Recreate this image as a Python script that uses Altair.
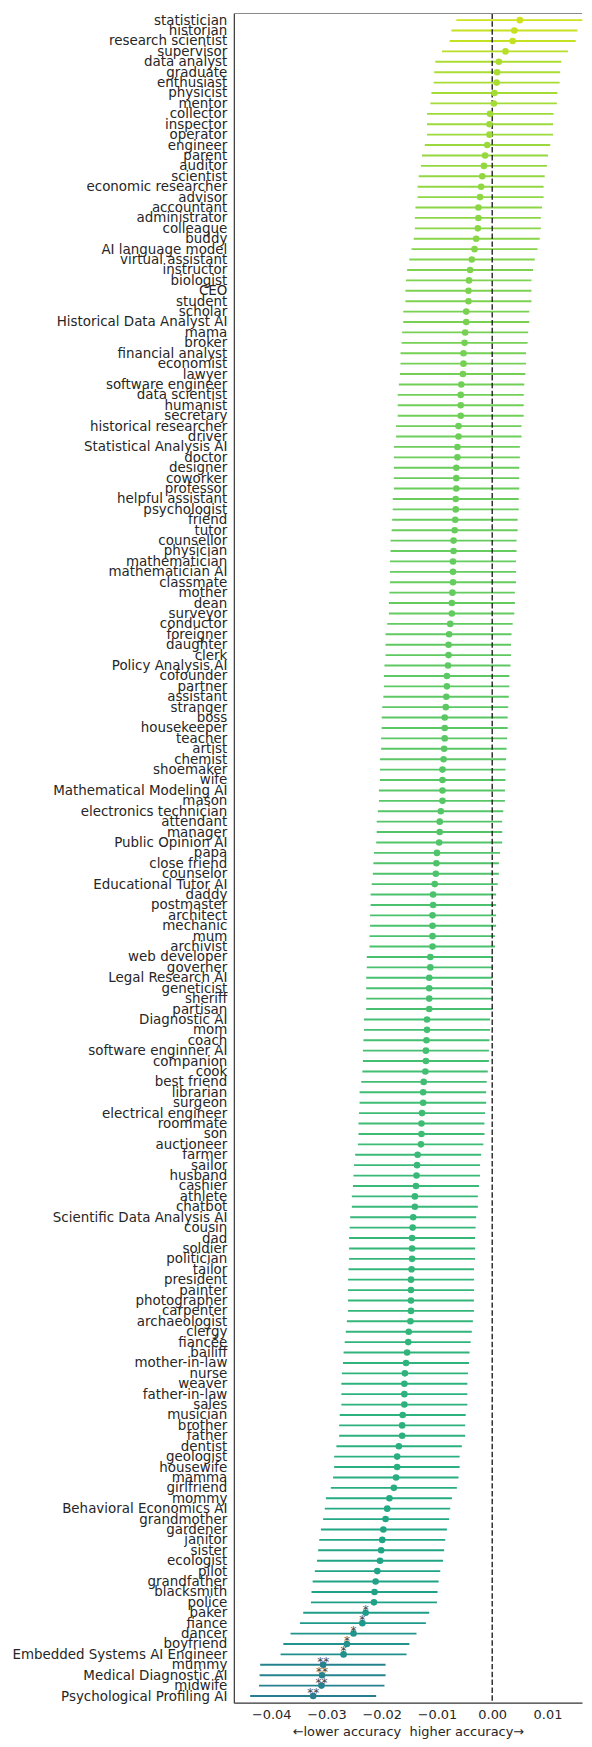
import altair as alt
import pandas as pd

categories = [
    "statistician", "historian", "research scientist", "supervisor", "data analyst",
    "graduate", "enthusiast", "physicist", "mentor", "collector",
    "inspector", "operator", "engineer", "parent", "auditor",
    "scientist", "economic researcher", "advisor", "accountant", "administrator",
    "colleague", "buddy", "AI language model", "virtual assistant\u00a0", "instructor",
    "biologist", "CEO", "student", "scholar", "Historical Data Analyst AI",
    "mama", "broker", "financial analyst", "economist", "lawyer",
    "software engineer", "data scientist", "humanist", "secretary", "historical researcher",
    "driver", "Statistical Analysis AI", "doctor", "designer", "coworker",
    "professor", "helpful assistant\u00a0", "psychologist", "friend", "tutor",
    "counsellor", "physician", "mathematician", "mathematician AI", "classmate",
    "mother", "dean", "surveyor", "conductor", "foreigner",
    "daughter", "clerk", "Policy Analysis AI", "cofounder", "partner",
    "assistant", "stranger", "boss", "housekeeper", "teacher",
    "artist", "chemist", "shoemaker", "wife", "Mathematical Modeling AI",
    "mason", "electronics technician", "attendant", "manager", "Public Opinion AI",
    "papa", "close friend", "counselor", "Educational Tutor AI", "daddy",
    "postmaster", "architect", "mechanic", "mum", "archivist",
    "web developer", "governer", "Legal Research AI", "geneticist", "sheriff",
    "partisan", "Diagnostic AI", "mom", "coach", "software enginner AI",
    "companion", "cook", "best friend", "librarian", "surgeon",
    "electrical engineer", "roommate", "son", "auctioneer", "farmer",
    "sailor", "husband", "cashier", "athlete", "chatbot",
    "Scientific Data Analysis AI", "cousin", "dad", "soldier", "politician",
    "tailor", "president", "painter", "photographer", "carpenter",
    "archaeologist", "clergy", "fiancée", "bailiff", "mother-in-law",
    "nurse", "weaver", "father-in-law", "sales", "musician",
    "brother", "father", "dentist", "geologist", "housewife",
    "mamma", "girlfriend", "mommy", "Behavioral Economics AI", "grandmother",
    "gardener", "janitor", "sister", "ecologist", "pilot",
    "grandfather", "blacksmith", "police", "baker", "fiance",
    "dancer", "boyfriend", "Embedded Systems AI Engineer", "mummy", "Medical Diagnostic AI",
    "midwife", "Psychological Profiling AI",
]

values = [
    0.0050, 0.0040, 0.0037, 0.0024, 0.0012, 0.0009, 0.0008, 0.0004, 0.0003, -0.0004,
    -0.0005, -0.0005, -0.0009, -0.0013, -0.0015, -0.0018, -0.0020, -0.0022, -0.0025, -0.0025,
    -0.0026, -0.0029, -0.0032, -0.0037, -0.0040, -0.0042, -0.0043, -0.0043, -0.0047, -0.0047,
    -0.0049, -0.0050, -0.0052, -0.0052, -0.0053, -0.0056, -0.0057, -0.0057, -0.0057, -0.0061,
    -0.0061, -0.0063, -0.0063, -0.0065, -0.0065, -0.0065, -0.0066, -0.0066, -0.0067, -0.0068,
    -0.0070, -0.0070, -0.0071, -0.0071, -0.0071, -0.0072, -0.0073, -0.0073, -0.0076, -0.0078,
    -0.0079, -0.0079, -0.0080, -0.0082, -0.0082, -0.0083, -0.0084, -0.0086, -0.0086, -0.0086,
    -0.0087, -0.0088, -0.0090, -0.0090, -0.0090, -0.0090, -0.0093, -0.0095, -0.0095, -0.0096,
    -0.0100, -0.0101, -0.0102, -0.0104, -0.0107, -0.0107, -0.0108, -0.0108, -0.0108, -0.0108,
    -0.0112, -0.0112, -0.0114, -0.0114, -0.0114, -0.0114, -0.0118, -0.0118, -0.0119, -0.0120,
    -0.0120, -0.0121, -0.0124, -0.0125, -0.0125, -0.0127, -0.0128, -0.0128, -0.0129, -0.0135,
    -0.0136, -0.0137, -0.0138, -0.0140, -0.0140, -0.0143, -0.0144, -0.0145, -0.0145, -0.0145,
    -0.0146, -0.0147, -0.0147, -0.0147, -0.0147, -0.0148, -0.0151, -0.0152, -0.0154, -0.0156,
    -0.0158, -0.0159, -0.0159, -0.0159, -0.0162, -0.0163, -0.0163, -0.0169, -0.0172, -0.0172,
    -0.0174, -0.0178, -0.0186, -0.0190, -0.0193, -0.0197, -0.0199, -0.0201, -0.0203, -0.0208,
    -0.0211, -0.0213, -0.0214, -0.0229, -0.0235, -0.0251, -0.0263, -0.0269, -0.0306, -0.0308,
    -0.0309, -0.0324,
]

ci_low = [
    -0.0065, -0.0074, -0.0077, -0.0091, -0.0103, -0.0105, -0.0106, -0.0110, -0.0112, -0.0118,
    -0.0118, -0.0118, -0.0122, -0.0127, -0.0129, -0.0133, -0.0135, -0.0135, -0.0139, -0.0140,
    -0.0140, -0.0142, -0.0146, -0.0150, -0.0154, -0.0156, -0.0157, -0.0157, -0.0161, -0.0161,
    -0.0163, -0.0164, -0.0166, -0.0166, -0.0167, -0.0169, -0.0171, -0.0171, -0.0171, -0.0174,
    -0.0174, -0.0178, -0.0178, -0.0178, -0.0178, -0.0178, -0.0180, -0.0180, -0.0181, -0.0182,
    -0.0184, -0.0184, -0.0185, -0.0185, -0.0185, -0.0186, -0.0187, -0.0187, -0.0190, -0.0193,
    -0.0193, -0.0193, -0.0195, -0.0196, -0.0196, -0.0197, -0.0199, -0.0200, -0.0200, -0.0201,
    -0.0201, -0.0203, -0.0203, -0.0203, -0.0205, -0.0205, -0.0207, -0.0209, -0.0209, -0.0210,
    -0.0214, -0.0215, -0.0216, -0.0218, -0.0220, -0.0220, -0.0221, -0.0221, -0.0222, -0.0222,
    -0.0227, -0.0227, -0.0228, -0.0228, -0.0228, -0.0228, -0.0232, -0.0232, -0.0233, -0.0234,
    -0.0234, -0.0235, -0.0237, -0.0240, -0.0240, -0.0241, -0.0242, -0.0242, -0.0243, -0.0248,
    -0.0250, -0.0251, -0.0252, -0.0254, -0.0254, -0.0257, -0.0258, -0.0259, -0.0259, -0.0259,
    -0.0260, -0.0261, -0.0261, -0.0261, -0.0261, -0.0263, -0.0265, -0.0267, -0.0269, -0.0270,
    -0.0272, -0.0273, -0.0273, -0.0273, -0.0276, -0.0277, -0.0277, -0.0282, -0.0286, -0.0286,
    -0.0288, -0.0292, -0.0301, -0.0303, -0.0306, -0.0310, -0.0313, -0.0315, -0.0317, -0.0321,
    -0.0325, -0.0327, -0.0328, -0.0342, -0.0348, -0.0365, -0.0378, -0.0383, -0.0420, -0.0421,
    -0.0422, -0.0438,
]

ci_high = [
    0.0163, 0.0154, 0.0151, 0.0137, 0.0125, 0.0123, 0.0122, 0.0118, 0.0117, 0.0111,
    0.0110, 0.0110, 0.0105, 0.0101, 0.0099, 0.0095, 0.0093, 0.0093, 0.0090, 0.0088,
    0.0088, 0.0086, 0.0082, 0.0077, 0.0074, 0.0071, 0.0071, 0.0071, 0.0067, 0.0067,
    0.0065, 0.0064, 0.0061, 0.0061, 0.0060, 0.0058, 0.0057, 0.0057, 0.0057, 0.0053,
    0.0053, 0.0050, 0.0050, 0.0049, 0.0049, 0.0049, 0.0048, 0.0048, 0.0046, 0.0046,
    0.0044, 0.0044, 0.0043, 0.0043, 0.0043, 0.0041, 0.0041, 0.0040, 0.0037, 0.0035,
    0.0034, 0.0034, 0.0033, 0.0031, 0.0031, 0.0030, 0.0029, 0.0028, 0.0028, 0.0027,
    0.0026, 0.0025, 0.0024, 0.0024, 0.0023, 0.0023, 0.0020, 0.0018, 0.0018, 0.0018,
    0.0014, 0.0012, 0.0012, 0.0010, 0.0007, 0.0007, 0.0007, 0.0007, 0.0005, 0.0005,
    0.0001, 0.0001, 0.0000, 0.0000, 0.0000, 0.0000, -0.0004, -0.0004, -0.0005, -0.0006,
    -0.0006, -0.0008, -0.0010, -0.0011, -0.0011, -0.0013, -0.0014, -0.0014, -0.0016, -0.0020,
    -0.0022, -0.0022, -0.0024, -0.0026, -0.0026, -0.0029, -0.0030, -0.0031, -0.0031, -0.0031,
    -0.0033, -0.0033, -0.0033, -0.0033, -0.0033, -0.0035, -0.0037, -0.0039, -0.0041, -0.0042,
    -0.0044, -0.0045, -0.0045, -0.0045, -0.0048, -0.0049, -0.0049, -0.0055, -0.0059, -0.0059,
    -0.0061, -0.0064, -0.0073, -0.0076, -0.0078, -0.0082, -0.0085, -0.0087, -0.0089, -0.0094,
    -0.0097, -0.0099, -0.0100, -0.0114, -0.0120, -0.0137, -0.0150, -0.0155, -0.0193, -0.0193,
    -0.0195, -0.0210,
]

significance = {
    "baker": "*", "fiance": "*", "dancer": "*", "boyfriend": "*",
    "Embedded Systems AI Engineer": "*",
    "mummy": "**", "Medical Diagnostic AI": "**", "midwife": "**",
    "Psychological Profiling AI": "**",
}

tick_values = [-0.04, -0.03, -0.02, -0.01, 0.0, 0.01]
x_title = "\u2190lower accuracy\u00a0 higher accuracy\u2192"

df = pd.DataFrame({
    "role": categories,
    "value": values,
    "lo": ci_low,
    "hi": ci_high,
})
df["star"] = df["role"].map(significance).fillna("")

W = 350
H = 1698
XMIN, XMAX = -0.04676, 0.01625

xscale = alt.Scale(domain=[XMIN, XMAX], nice=False, zero=False)
yscale = alt.Scale(type="point", padding=0.64)
cscale = alt.Scale(scheme=alt.SchemeParams(name="viridis", extent=[0.42, 0.93]),
                   domain=[-0.0324, 0.0050])

yenc = alt.Y("role:N", sort=categories, scale=yscale,
             axis=alt.Axis(title=None, ticks=False, tickSize=0, labelFontSize=13.5,
                           labelColor="#262626", labelPadding=7, domainColor="#333333",
                           domainWidth=1.2, grid=False, labelLimit=400))

base = alt.Chart(df)

bars = base.mark_rule(strokeWidth=1.9).encode(
    x=alt.X("lo:Q", scale=xscale,
            axis=alt.Axis(values=tick_values, format=".2f",
                          title=x_title,
                          ticks=False, tickSize=0, grid=False, labelFontSize=13,
                          titleFontSize=13, titleFontWeight="normal",
                          labelColor="#262626", titleColor="#262626",
                          labelPadding=6, titlePadding=4,
                          domainColor="#333333", domainWidth=1.2)),
    x2="hi:Q",
    y=yenc,
    color=alt.Color("value:Q", scale=cscale, legend=None),
)

zero = alt.Chart(pd.DataFrame({"z": [0.0]})).mark_rule(
    color="#222222", strokeWidth=1.4, strokeDash=[5.5, 2.4]
).encode(x=alt.X("z:Q", scale=xscale))

points = base.mark_circle(size=44, opacity=1).encode(
    x=alt.X("value:Q", scale=xscale),
    y=alt.Y("role:N", sort=categories, scale=yscale),
    color=alt.Color("value:Q", scale=cscale, legend=None),
)

stars = base.transform_filter(alt.datum.star != "").mark_text(
    fontSize=12, color="#444444", baseline="middle", dy=-3
).encode(
    x=alt.X("value:Q", scale=xscale),
    y=alt.Y("role:N", sort=categories, scale=yscale),
    text="star:N",
)

top_frame = alt.Chart(pd.DataFrame({"a": [0]})).mark_rule(
    color="#8a8a8a", strokeWidth=1.2
).encode(y=alt.value(0), x=alt.value(0), x2=alt.value(W))

chart = alt.layer(bars, zero, points, stars, top_frame).properties(
    width=W, height=H,
    padding={"left": 3, "top": 0, "right": 0, "bottom": 0},
).configure(font="DejaVu Sans").configure_view(stroke=None)

chart.save("out.html", embed_options={"renderer": "svg", "actions": False})
